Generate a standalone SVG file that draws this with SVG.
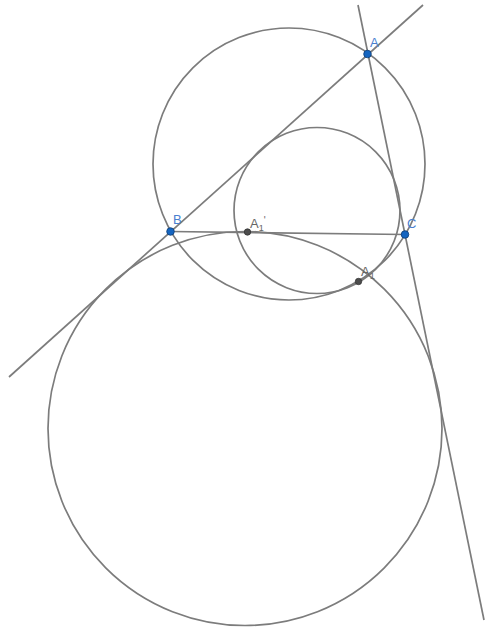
<svg xmlns="http://www.w3.org/2000/svg" width="486" height="629" viewBox="0 0 486 629">
<style>
.ln{fill:none;stroke:#7c7c7c;stroke-width:1.7}
.bp{fill:#1565c0;stroke:#0d3c75;stroke-width:0.8}
.gp{fill:#4d4d4d;stroke:#333;stroke-width:0.8}
.bl{font-family:"Liberation Sans",Arial,sans-serif;font-size:13px;fill:#4a7fd0}
.gl{font-family:"Liberation Sans",Arial,sans-serif;font-size:13px;fill:#666}
.sb{font-size:9px}
</style>
<rect width="486" height="629" fill="#fff"/>
<g id="connectors">
<line class="ln" x1="9" y1="377" x2="423" y2="5"/>
<line class="ln" x1="358" y1="5" x2="484" y2="620"/>
<line class="ln" x1="170.5" y1="231.5" x2="405" y2="234.5"/>
<circle class="ln" cx="289" cy="164" r="136"/>
<circle class="ln" cx="317" cy="210.5" r="83"/>
<circle class="ln" cx="245" cy="428.5" r="197"/>
</g>
<g id="A"><circle class="bp" cx="367.5" cy="54" r="3.8"/><text class="bl" x="370" y="47">A</text></g>
<g id="B"><circle class="bp" cx="170.5" cy="231.5" r="3.8"/><text class="bl" x="173" y="224">B</text></g>
<g id="C"><circle class="bp" cx="405" cy="234.5" r="3.8"/><text class="bl" x="407" y="228">C</text></g>
<g id="A1p"><circle class="gp" cx="247.5" cy="232" r="3.2"/><text class="gl" x="250" y="228">A<tspan class="sb" dy="3">1</tspan><tspan dy="-7" font-size="10">'</tspan></text></g>
<g id="A1"><circle class="gp" cx="358.5" cy="281.5" r="3.2"/><text class="gl" x="361" y="276">A<tspan class="sb" dy="3">1</tspan></text></g>
</svg>
